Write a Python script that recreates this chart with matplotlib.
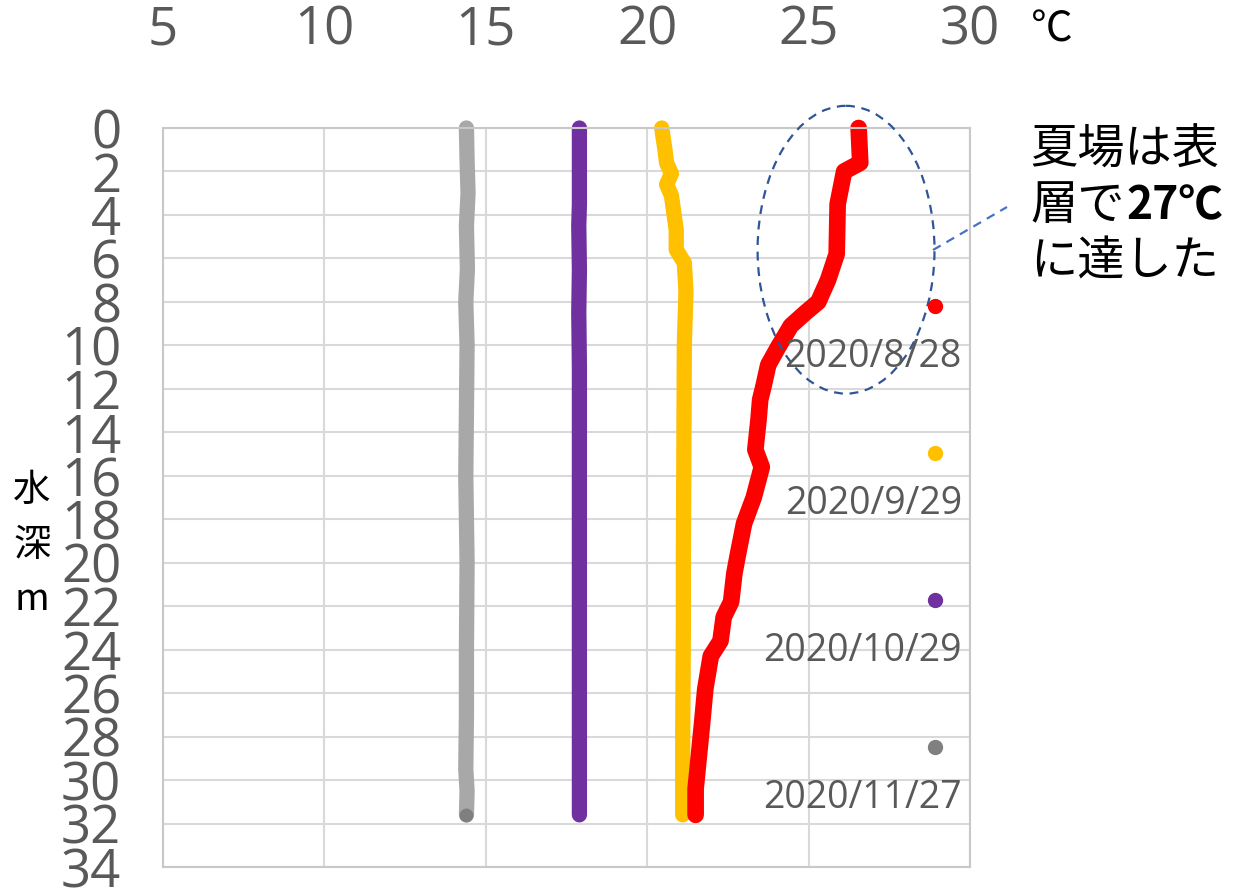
import matplotlib
matplotlib.use("Agg")
import matplotlib.pyplot as plt
from matplotlib.patches import Ellipse
from matplotlib.lines import Line2D

plt.rcParams['font.family'] = ['Open Sans', 'Noto Sans CJK JP', 'DejaVu Sans']

# ---- data (temperature ℃, depth m) ----
red_temp = [26.55, 26.6, 26.1, 25.9, 25.87, 25.6, 25.3, 24.9, 24.45, 24.05, 23.75, 23.6, 23.5,
            23.45, 23.35, 23.55, 23.3, 23.0, 22.8, 22.7, 22.6, 22.37, 22.27, 21.97, 21.8, 21.7,
            21.6, 21.5, 21.5]
red_depth = [0, 1.6, 2.0, 3.5, 5.8, 7.0, 8.0, 8.5, 9.1, 10.1, 10.9, 11.9, 12.5,
             13.4, 14.8, 15.6, 17.0, 18.2, 19.7, 20.5, 21.8, 22.5, 23.6, 24.3, 25.8, 27.4,
             28.9, 30.4, 31.6]

yel_temp = [20.45, 20.55, 20.6, 20.75, 20.6, 20.75, 20.9, 20.9, 21.15, 21.2, 21.15, 21.12, 21.12, 21.1, 21.1]
yel_depth = [0, 1.0, 1.6, 2.1, 2.6, 3.1, 4.7, 5.6, 6.2, 7.5, 10.0, 20.0, 23.0, 28.0, 31.6]

pur_temp = [17.9, 17.9, 17.88, 17.9, 17.88, 17.9, 17.9, 17.9]
pur_depth = [0, 3.5, 4.5, 6.5, 8.5, 11.0, 20.0, 31.6]

gry_temp = [14.4, 14.42, 14.45, 14.4, 14.43, 14.38, 14.42, 14.4, 14.38, 14.42, 14.4, 14.4, 14.38, 14.42, 14.4]
gry_depth = [0, 1.5, 3.0, 4.5, 6.5, 8.0, 10.0, 13.0, 16.0, 20.0, 24.0, 27.0, 29.5, 30.5, 31.6]

series_labels = ['2020/8/28', '2020/9/29', '2020/10/29', '2020/11/27']
series_colors = ['#FF0000', '#FFC000', '#7030A0', '#A8A8A8']
legend_marker_colors = ['#FF0000', '#FFC000', '#7030A0', '#808080']

x_ticks = [5, 10, 15, 20, 25, 30]
y_ticks = list(range(0, 36, 2))

# ---- figure ----
fig = plt.figure(figsize=(12.4, 8.96), dpi=100)
ax = fig.add_axes([163/1240, 1-867/896, (970-163)/1240, (867-128)/896])

ax.set_xlim(5, 30)
ax.set_ylim(34, 0)
ax.set_xticks(x_ticks)
ax.set_yticks(y_ticks)
ax.xaxis.tick_top()
ax.tick_params(axis='both', length=0, labelsize=38, colors='#595959')
ax.tick_params(axis='x', pad=51)
ax.tick_params(axis='y', pad=30)
ax.grid(True, color='#D9D9D9', linewidth=1.5)
ax.set_axisbelow(True)
for s in ax.spines.values():
    s.set_color('#C8C8C8')
    s.set_linewidth(1.5)

lw = 11
kw = dict(solid_capstyle='round', solid_joinstyle='round', clip_on=False)
ax.plot(gry_temp, gry_depth, color=series_colors[3], lw=lw, **kw)
ax.plot([gry_temp[-1]], [gry_depth[-1]], 'o', color='#7F7F7F', ms=9, mec='#7F7F7F', clip_on=False)
ax.plot(pur_temp, pur_depth, color=series_colors[2], lw=lw, **kw)
ax.plot(yel_temp, yel_depth, color=series_colors[1], lw=lw, **kw)
ax.plot(red_temp, red_depth, color=series_colors[0], lw=12, **kw)

# dashed ellipse
ell = Ellipse((26.16, 5.6), 5.48, 13.24, fill=False, edgecolor='#2F5597', linestyle=(0, (4, 3)),
              lw=1.6, zorder=5, clip_on=False)
ax.add_patch(ell)
fig.add_artist(Line2D([933/1240, 1007/1240], [1-250/896, 1-207/896], color='#4472C4',
                      linestyle=(0, (4, 3)), lw=1.6))

# legend (custom, right side)
leg_y = [306, 453, 600, 747]
for lab, col, y in zip(series_labels, legend_marker_colors, leg_y):
    fig.add_artist(Line2D([935/1240], [1-y/896], marker='o', color=col, ms=10, mec=col, lw=0))
    fig.text(962/1240, 1-(y+51)/896, lab, ha='right', va='center', fontsize=27, color='#595959')

# unit labels
fig.text(1052/1240, 1-30/896, '℃', ha='center', va='center', fontsize=30, color='black',
         family=['Noto Sans CJK JP'])
for ch, y in zip(['水', '深', 'm'], [490, 545, 600]):
    fig.text(32/1240, 1-y/896, ch, ha='center', va='center', fontsize=27, color='black',
             family=['Noto Sans CJK JP', 'DejaVu Sans'])

# annotation text
cjk = ['Noto Sans CJK JP']
fig.text(1030/1240, 1-150/896, '夏場は表', ha='left', va='center', fontsize=34, family=cjk)
fig.text(1030/1240, 1-206/896, '層で', ha='left', va='center', fontsize=34, family=cjk)
fig.text(1126/1240, 1-206/896, '27℃', ha='left', va='center', fontsize=32, family=cjk, weight='bold')
fig.text(1030/1240, 1-262/896, 'に達した', ha='left', va='center', fontsize=34, family=cjk)

fig.savefig('out.png', dpi=100)
